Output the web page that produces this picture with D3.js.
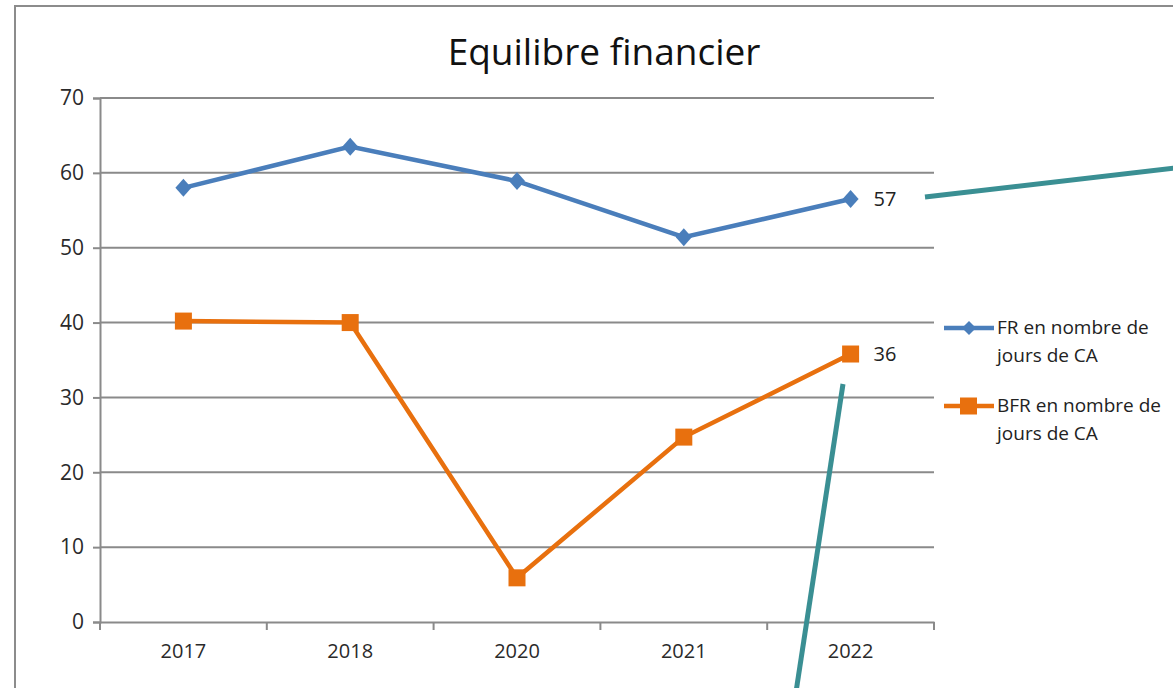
<!DOCTYPE html>
<html><head><meta charset="utf-8">
<script src="https://cdn.jsdelivr.net/npm/d3@7"></script>
<style>body{margin:0;background:#fff}svg{display:block}text{font-family:"Open Sans",sans-serif}</style>
</head><body>
<script>
const categories = ["2017","2018","2020","2021","2022"];
const frValues = [58.0, 63.5, 58.9, 51.4, 56.5];
const bfrValues = [40.2, 40.0, 5.9, 24.7, 35.8];
const yTicks = [0,10,20,30,40,50,60,70];
const seriesNames = ["FR en nombre de jours de CA","BFR en nombre de jours de CA"];
const lastLabels = ["57","36"];

const W=1173,H=688;
const svg=d3.select("body").append("svg").attr("width",W).attr("height",H);
svg.append("rect").attr("width",W).attr("height",H).attr("fill","#fff");
svg.append("rect").attr("x",15).attr("y",6).attr("width",W+20).attr("height",H+20)
  .attr("fill","none").attr("stroke","#8c8c8c").attr("stroke-width",2);

const x=d3.scaleBand().domain(categories).range([100,934]);
const y=d3.scaleLinear().domain([0,70]).range([622,98]);

svg.append("text").attr("x",604).attr("y",65).attr("text-anchor","middle")
  .attr("font-size",37).attr("fill","#111").text("Equilibre financier");

svg.append("g").selectAll("line").data(yTicks.filter(d=>d>0)).join("line")
  .attr("x1",100).attr("x2",934).attr("y1",d=>y(d)).attr("y2",d=>y(d))
  .attr("stroke","#8a8a8a").attr("stroke-width",2);

const ya=svg.append("g").attr("transform","translate(100,0)")
  .call(d3.axisLeft(y).tickValues(yTicks).tickSize(7).tickPadding(9));
ya.select(".domain").attr("stroke","#8a8a8a").attr("stroke-width",2);
ya.selectAll(".tick line").attr("stroke","#8a8a8a").attr("stroke-width",2);
ya.selectAll("text").attr("font-size",21).attr("fill","#2a2a2a").attr("font-family","Open Sans");

const xa=svg.append("g").attr("transform","translate(0,622)")
  .call(d3.axisBottom(x).tickSize(0).tickPadding(22));
xa.select(".domain").attr("stroke","#8a8a8a").attr("stroke-width",2);
xa.selectAll("text").attr("font-size",20).attr("fill","#2a2a2a").attr("font-family","Open Sans");
const bounds=categories.map(c=>x(c)).concat([x(categories[categories.length-1])+x.bandwidth()]);
xa.selectAll(".bt").data(bounds).join("line").attr("class","bt")
  .attr("x1",d=>d).attr("x2",d=>d).attr("y1",0).attr("y2",8)
  .attr("stroke","#8a8a8a").attr("stroke-width",2);

const cx=c=>x(c)+x.bandwidth()/2;
const line=d3.line().x(d=>cx(d.c)).y(d=>y(d.v));
const blue="#4a7ebb", orange="#e8700e";
const fr=categories.map((c,i)=>({c,v:frValues[i]}));
const bfr=categories.map((c,i)=>({c,v:bfrValues[i]}));

svg.append("path").datum(bfr).attr("d",line).attr("fill","none").attr("stroke",orange).attr("stroke-width",4.5);
svg.append("g").selectAll("rect").data(bfr).join("rect")
  .attr("x",d=>cx(d.c)-8.5).attr("y",d=>y(d.v)-8.5).attr("width",17).attr("height",17).attr("fill",orange);

svg.append("path").datum(fr).attr("d",line).attr("fill","none").attr("stroke",blue).attr("stroke-width",4.5);
svg.append("g").selectAll("path.m").data(fr).join("path").attr("class","m")
  .attr("d",d=>{const X=cx(d.c),Y=y(d.v);return `M${X},${Y-9}L${X+8},${Y}L${X},${Y+9}L${X-8},${Y}Z`;})
  .attr("fill",blue);

svg.append("text").attr("x",cx("2022")+23).attr("y",y(frValues[4])+7).attr("font-size",20).attr("fill","#222").text(lastLabels[0]);
svg.append("text").attr("x",cx("2022")+23).attr("y",y(bfrValues[4])+7).attr("font-size",20).attr("fill","#222").text(lastLabels[1]);

const lg=svg.append("g");
const items=[{name:seriesNames[0],col:blue,shape:"d",y:328},{name:seriesNames[1],col:orange,shape:"s",y:406}];
items.forEach(it=>{
  lg.append("line").attr("x1",944).attr("x2",994).attr("y1",it.y).attr("y2",it.y).attr("stroke",it.col).attr("stroke-width",4.5);
  if(it.shape==="d") lg.append("path").attr("d",`M969,${it.y-7}L976,${it.y}L969,${it.y+7}L962,${it.y}Z`).attr("fill",it.col);
  else lg.append("rect").attr("x",960).attr("y",it.y-8.5).attr("width",17).attr("height",17).attr("fill",it.col);
  const words=it.name.split(" ");
  const t=lg.append("text").attr("x",997).attr("y",it.y+6).attr("font-size",19).attr("fill","#222");
  t.append("tspan").attr("x",997).text(words.slice(0,4).join(" "));
  t.append("tspan").attr("x",997).attr("dy",28).text(words.slice(4).join(" "));
});

const teal="#3a8f93";
svg.append("line").attr("x1",925).attr("y1",197).attr("x2",1175).attr("y2",168).attr("stroke",teal).attr("stroke-width",5);
svg.append("line").attr("x1",843).attr("y1",384).attr("x2",796).attr("y2",692).attr("stroke",teal).attr("stroke-width",5);
</script>
</body></html>
